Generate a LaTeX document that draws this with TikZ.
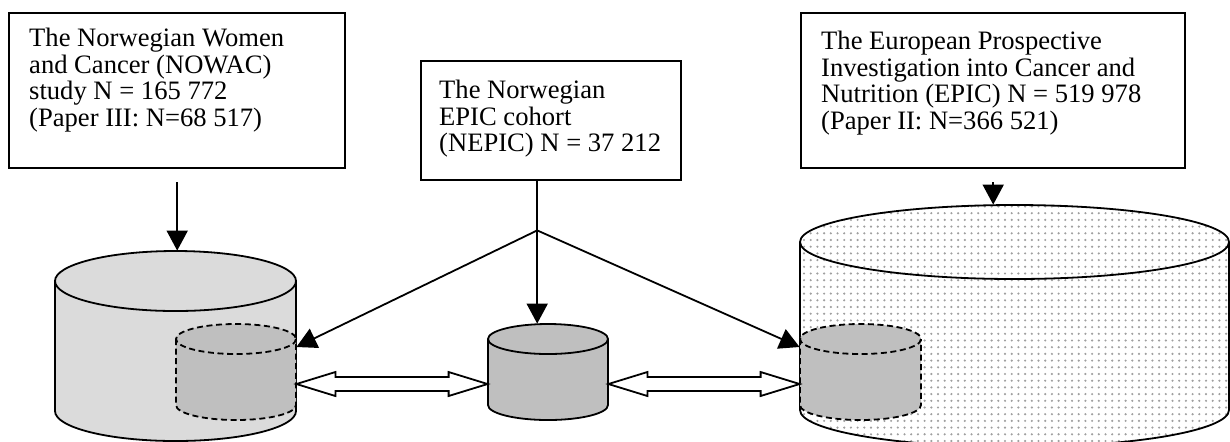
\documentclass[tikz,border=0pt]{standalone}
\usepackage{fontspec}
\setmainfont{Liberation Serif}
\usetikzlibrary{positioning, arrows.meta, calc, fit, patterns}

% sparse dot fill for the EPIC database
\pgfdeclarepatternformonly{bigdots}{\pgfqpoint{-1pt}{-1pt}}{\pgfqpoint{1pt}{1pt}}{\pgfqpoint{3.35pt}{3.35pt}}{%
	\pgfpathcircle{\pgfqpoint{0pt}{0pt}}{0.6pt}\pgfusepath{fill}}

% cylinder: name, cx, y top centre, y bottom centre, rx, ry, fill style, line style
\newcommand{\dbcyl}[8]{%
	\node[fit={({#2-#5},{#3-#6}) ({#2+#5},{#4+#6})}, inner sep=0pt] (#1) {};
	\path[#7] ({#2-#5},#3) -- ({#2-#5},#4) arc[start angle=180, end angle=0, x radius=#5, y radius=#6] -- ({#2+#5},#3) arc[start angle=0, end angle=-180, x radius=#5, y radius=#6] -- cycle;
	\draw[#8] ({#2-#5},#3) -- ({#2-#5},#4) arc[start angle=180, end angle=0, x radius=#5, y radius=#6] -- ({#2+#5},#3);
	\draw[#8] (#2,#3) ellipse [x radius=#5, y radius=#6];
}
% hollow double arrow between two named coordinates
\newcommand{\dblarrow}[2]{%
	\draw[hollow] (#1) -- ++(39,-12) -- ++(0,5) -- ($(#2)+(-39,-7)$) -- ++(0,-5) -- (#2) -- ++(-39,12) -- ++(0,-5) -- ($(#1)+(39,7)$) -- ++(0,5) -- cycle;
}
% box text: width, height, left pad, first baseline, text
\newcommand{\boxtext}[5]{\parbox[c][#2][t]{#1}{\leftskip=#3\rightskip=0pt plus 1fil\rule{0pt}{#4}#5}}

\begin{document}
\begin{tikzpicture}[
	x=0.5pt, y=-0.5pt,
	% --- Styles ---
	studybox/.style={
		draw, line width=1.2pt, anchor=north west, inner sep=0pt,
		font=\fontsize{13.3pt}{13.4pt}\selectfont
	},
	line/.style={
		draw, line width=0.9pt, -{Triangle[length=10pt, width=10.5pt]}
	},
	plainline/.style={
		draw, line width=0.9pt
	},
	cylline/.style={
		line width=0.9pt
	},
	innerline/.style={
		line width=0.9pt, dash pattern=on 3pt off 1.8pt
	},
	hollow/.style={
		draw, fill=white, line width=0.9pt, line join=miter
	}
	]
	\useasboundingbox (0,0) rectangle (1230,441);
	
	% --- 1. Cohort databases ---
	\dbcyl{bigL}{175.5}{281}{411}{120.5}{30}{fill=gray!28}{cylline}
	\dbcyl{inL}{236}{339}{405}{60}{15}{fill=gray!50}{innerline}
	\dbcyl{midC}{548}{339}{405}{60}{15}{fill=gray!50}{cylline}
	\dbcyl{bigR}{1014.5}{242}{410}{214.5}{37}{pattern=bigdots, pattern color=gray!75}{cylline}
	\dbcyl{inR}{860.5}{339}{405}{60.5}{15}{fill=gray!50}{innerline}
	
	% --- 2. Study boxes ---
	\node[studybox] (nowac) at (8,12) {\boxtext{168pt}{77.5pt}{10pt}{16.5pt}{The Norwegian Women\\and Cancer (NOWAC)\\study N = 165 772\\(Paper III: N=68 517)}};
	\node[studybox] (nepic) at (420,60) {\boxtext{130pt}{59.5pt}{9pt}{18.5pt}{The Norwegian\\EPIC cohort\\(NEPIC) N = 37 212}};
	\node[studybox] (epic) at (800,12) {\boxtext{192pt}{77.5pt}{10pt}{18pt}{The European Prospective\\Investigation into Cancer and\\Nutrition (EPIC) N = 519 978\\(Paper II: N=366 521)}};
	
	% --- 3. Arrows into the databases ---
	\draw[line] ($(nowac.south)+(0,13)$) -- (nowac.south |- bigL.north);
	\draw[line] ($(epic.south)+(0,13)$) -- (epic.south |- bigR.north);
	
	% NEPIC splits to all three
	\coordinate (split) at ($(nepic.south)+(-14,49)$);
	\draw[plainline] (nepic.south -| split) -- (split);
	\draw[line] (split) -- (split |- midC.north);
	\draw[line] (split) -- ($(inL.east)+(0,-25)$);
	\draw[line] (split) -- ($(inR.west)+(0,-25)$);
	
	% --- 4. Links between the sub-cohorts ---
	\coordinate (linkL) at ($(inL.east)+(0,12)$);
	\coordinate (linkML) at ($(midC.west)+(0,12)$);
	\coordinate (linkMR) at ($(midC.east)+(0,12)$);
	\coordinate (linkR) at ($(inR.west)+(0,12)$);
	\dblarrow{linkL}{linkML}
	\dblarrow{linkMR}{linkR}
	
\end{tikzpicture}
\end{document}
